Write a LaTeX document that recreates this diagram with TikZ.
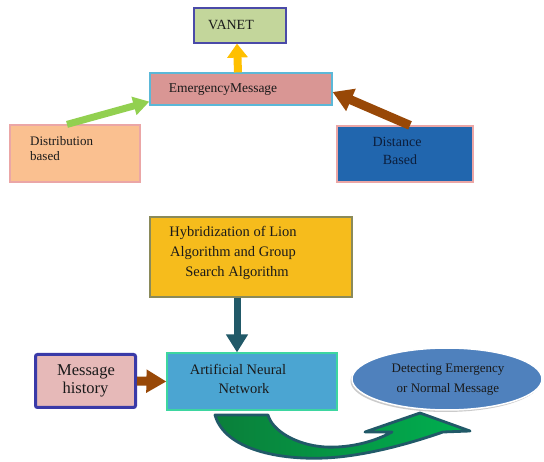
\documentclass[tikz,border=0pt]{standalone}
\usepackage{fontspec}
\setmainfont{Liberation Serif}
\usetikzlibrary{arrows.meta,shapes.geometric,shadows}

\definecolor{vanetfill}{HTML}{C3D69B}
\definecolor{vanetline}{HTML}{4A4AA8}
\definecolor{emfill}{HTML}{D99694}
\definecolor{emline}{HTML}{5BB8D8}
\definecolor{distfill}{HTML}{FAC090}
\definecolor{pinkline}{HTML}{EBA6A6}
\definecolor{dstfill}{HTML}{2166AE}
\definecolor{hybfill}{HTML}{F6BC1C}
\definecolor{hybline}{HTML}{8A8A5A}
\definecolor{annfill}{HTML}{4BA5D2}
\definecolor{annline}{HTML}{3DD6A0}
\definecolor{mhfill}{HTML}{E6B9B8}
\definecolor{mhline}{HTML}{3A3AA8}
\definecolor{ellfill}{HTML}{4F81BD}
\definecolor{arrgold}{HTML}{FFC000}
\definecolor{arrlime}{HTML}{92D050}
\definecolor{arrbrown}{HTML}{984807}
\definecolor{arrteal}{HTML}{215968}
\definecolor{greendark}{HTML}{0A7F3A}
\definecolor{greenlight}{HTML}{00B050}
\definecolor{inktext}{HTML}{1A1A1A}
\definecolor{navytext}{HTML}{0C1E3C}

\begin{document}
\begin{tikzpicture}[x=1pt,y=-1pt,
  box/.style={rectangle, draw, line width=1.2pt, inner sep=0pt},
  txt/.style={inner sep=0pt, anchor=base, text=inktext},
  blockarrow/.style={line width=#1},
]
\useasboundingbox (0,0) rectangle (544,462);
\fill[white] (0,0) rectangle (544,462);

% ---- upper part: message dissemination ----
\node[box, fill=vanetfill, draw=vanetline, minimum width=92pt, minimum height=35pt] (vanet) at (240,25.5) {};
\node[box, fill=emfill, draw=emline, minimum width=182pt, minimum height=32pt] (em) at (241,89) {};
\node[box, fill=distfill, draw=pinkline, minimum width=130pt, minimum height=57pt] (dist) at (75,153.5) {};
\node[box, fill=dstfill, draw=pinkline, minimum width=136pt, minimum height=56pt] (dst) at (405,154) {};

\node[txt, font=\fontsize{14}{16}\selectfont] (vanet-t) at (231,29.5) {VANET};
\node[txt, font=\fontsize{13.5}{16}\selectfont] (em-t) at (223,93) {EmergencyMessage};
\node[txt, anchor=base west, font=\fontsize{13}{16}\selectfont] (dist-t1) at (30,146) {Distribution};
\node[txt, anchor=base west, font=\fontsize{13}{16}\selectfont] (dist-t2) at (30,161) {based};
\node[txt, text=navytext, font=\fontsize{14}{16}\selectfont] (dst-t1) at (397,147) {Distance};
\node[txt, text=navytext, font=\fontsize{14}{16}\selectfont] (dst-t2) at (400,165) {Based};

\draw[blockarrow=8pt, arrgold, -{Triangle[width=20pt,length=14pt]}]
  ([xshift=-3pt]em.north) -- ([xshift=-3pt]vanet.south);
\draw[blockarrow=7pt, arrlime, -{Triangle[width=18pt,length=16pt]}]
  ([xshift=-8pt]dist.north) -- ([yshift=4pt]em.south west);
\draw[blockarrow=9pt, arrbrown, -{Triangle[width=23pt,length=20pt]}]
  ([xshift=5pt]dst.north) -- ([yshift=-3pt]em.east);

% ---- lower part: classification ----
\node[box, fill=hybfill, draw=hybline, minimum width=202pt, minimum height=80pt] (hyb) at (251,257) {};
\node[box, fill=annfill, draw=annline, minimum width=170pt, minimum height=57pt] (ann) at (252,381.5) {};
\node[box, fill=mhfill, draw=mhline, line width=3pt, rounded corners=2pt, minimum width=100pt, minimum height=53pt] (mh) at (85.5,381) {};
\node[ellipse, draw=white, line width=1.5pt, fill=ellfill, inner sep=0pt,
      minimum width=190pt, minimum height=62pt,
      drop shadow={shadow xshift=-1.5pt, shadow yshift=-2pt, fill=black!40}] (ell) at (447,379) {};

\node[txt, font=\fontsize{14.5}{20}\selectfont] (hyb-t1) at (233,237) {Hybridization of Lion};
\node[txt, font=\fontsize{14.5}{20}\selectfont] (hyb-t2) at (233,257) {Algorithm and Group};
\node[txt, font=\fontsize{14.5}{20}\selectfont] (hyb-t3) at (237,277) {Search Algorithm};
\node[txt, font=\fontsize{14.5}{19}\selectfont] (ann-t1) at (238,375) {Artificial Neural};
\node[txt, font=\fontsize{14.5}{19}\selectfont] (ann-t2) at (244,394) {Network};
\node[txt, font=\fontsize{16.5}{18}\selectfont] (mh-t1) at (86,376) {Message};
\node[txt, font=\fontsize{16.5}{18}\selectfont] (mh-t2) at (85.5,394) {history};
\node[txt, font=\fontsize{13}{20}\selectfont] (ell-t1) at (448,373) {Detecting Emergency};
\node[txt, font=\fontsize{13}{20}\selectfont] (ell-t2) at (448,393) {or Normal Message};

\draw[blockarrow=7pt, arrteal, -{Triangle[width=21pt,length=18pt]}]
  ([xshift=-14pt]hyb.south) -- ([xshift=-15pt]ann.north);
\draw[blockarrow=9pt, arrbrown, -{Triangle[width=22pt,length=20pt]}]
  (mh.east) -- (ann.west);

% curved block arrow from the network to the result
\path[draw=arrteal, line width=2.8pt, line join=round, left color=greendark, right color=greenlight]
  (215,415) .. controls (225,450) and (280,460) .. (325,458)
  .. controls (370,456) and (420,440) .. (443,432)
  -- (470,431) -- (420,413) -- (365,432) -- (392,432)
  .. controls (370,444) and (345,448) .. (325,447)
  .. controls (295,445) and (272,430) .. (268,415) -- cycle;
\end{tikzpicture}
\end{document}
